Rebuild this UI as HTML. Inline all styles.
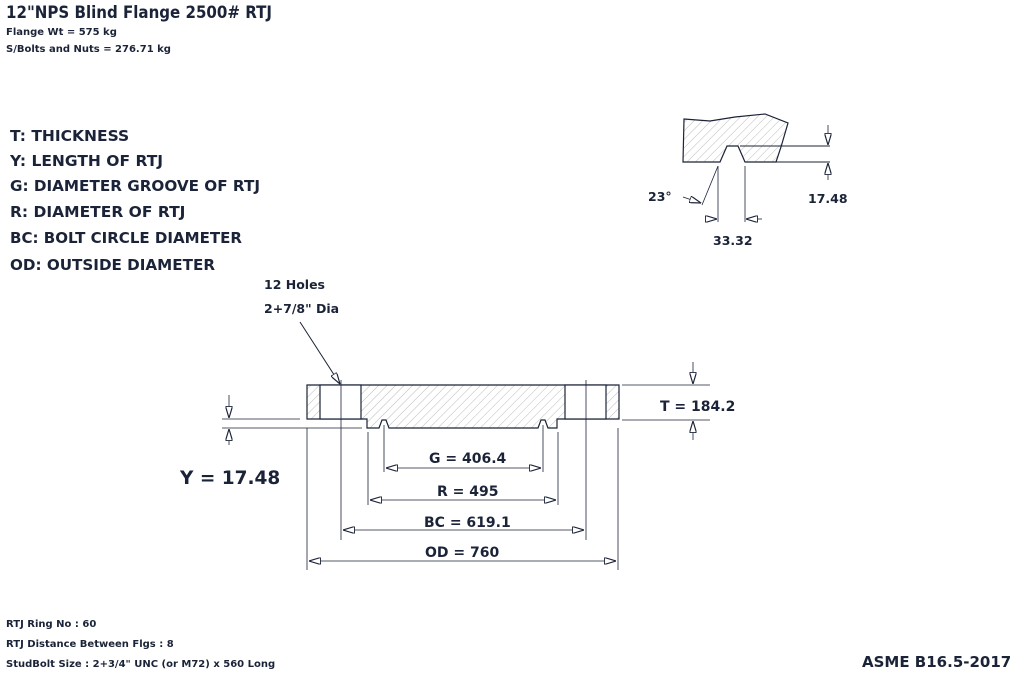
<!DOCTYPE html>
<html><head><style>
body{margin:0;background:#fff;}
svg text{font-family:"DejaVu Sans","Liberation Sans",sans-serif;fill:#1b2338;font-weight:bold;}
</style></head><body>
<svg width="1015" height="673" viewBox="0 0 1015 673" xmlns="http://www.w3.org/2000/svg">
<defs>
<pattern id="h" width="6" height="6" patternUnits="userSpaceOnUse" patternTransform="rotate(45)">
<line x1="0" y1="0" x2="0" y2="6" stroke="#bbb" stroke-width="1"/></pattern>
<marker id="a" viewBox="0 0 10 6" refX="10" refY="3" markerWidth="12" markerHeight="7" orient="auto-start-reverse" markerUnits="userSpaceOnUse">
<path d="M0,0 L10,3 L0,6 Z" fill="#fff" stroke="#1b2338" stroke-width="1"/></marker>
</defs>
<text x="6" y="18" font-size="16.5" textLength="266" lengthAdjust="spacingAndGlyphs">12"NPS Blind Flange 2500# RTJ</text>
<text x="6" y="35" font-size="10">Flange Wt =  575 kg</text>
<text x="6" y="52" font-size="10">S/Bolts and Nuts =  276.71 kg</text>
<g font-size="15.5">
<text x="10" y="141">T: THICKNESS</text>
<text x="10" y="166">Y: LENGTH OF RTJ</text>
<text x="10" y="191" textLength="250" lengthAdjust="spacingAndGlyphs">G: DIAMETER GROOVE OF RTJ</text>
<text x="10" y="217">R: DIAMETER OF RTJ</text>
<text x="10" y="243" textLength="232" lengthAdjust="spacingAndGlyphs">BC: BOLT CIRCLE DIAMETER</text>
<text x="10" y="270" textLength="205" lengthAdjust="spacingAndGlyphs">OD: OUTSIDE DIAMETER</text>
</g>
<text x="264" y="289" font-size="12.5">12 Holes</text>
<text x="264" y="313" font-size="12.5">2+7/8" Dia</text>
<line x1="300" y1="322" x2="340" y2="384" stroke="#1b2338" marker-end="url(#a)"/>
<g stroke="#1b2338" stroke-width="1.2" fill="none">
<path d="M307,385 H619 V419 H557 V428 H548 L545,420 L541,420 L538,428 H389 L386,420 L382,420 L379,428 H367 V419 H307 Z" fill="url(#h)"/>
<rect x="320" y="385" width="41" height="34" fill="#fff"/>
<rect x="565" y="385" width="41" height="34" fill="#fff"/>
<line x1="341" y1="380" x2="341" y2="540" stroke-width="0.8"/>
<line x1="586" y1="380" x2="586" y2="540" stroke-width="0.8"/>
<line x1="307" y1="428" x2="307" y2="570" stroke-width="0.8"/>
<line x1="618" y1="428" x2="618" y2="570" stroke-width="0.8"/>
<line x1="368" y1="432" x2="368" y2="505" stroke-width="0.8"/>
<line x1="558" y1="432" x2="558" y2="505" stroke-width="0.8"/>
<line x1="384" y1="425" x2="384" y2="472" stroke-width="0.8"/>
<line x1="543" y1="425" x2="543" y2="472" stroke-width="0.8"/>
<line x1="386" y1="468" x2="541" y2="468" stroke-width="0.8" marker-start="url(#a)" marker-end="url(#a)"/>
<line x1="370" y1="500" x2="556" y2="500" stroke-width="0.8" marker-start="url(#a)" marker-end="url(#a)"/>
<line x1="343" y1="530" x2="584" y2="530" stroke-width="0.8" marker-start="url(#a)" marker-end="url(#a)"/>
<line x1="309" y1="561" x2="616" y2="561" stroke-width="0.8" marker-start="url(#a)" marker-end="url(#a)"/>
<line x1="622" y1="385" x2="710" y2="385" stroke-width="0.8"/>
<line x1="622" y1="420" x2="710" y2="420" stroke-width="0.8"/>
<line x1="693" y1="362" x2="693" y2="384" stroke-width="0.8" marker-end="url(#a)"/>
<line x1="693" y1="440" x2="693" y2="421" stroke-width="0.8" marker-end="url(#a)"/>
<line x1="222" y1="419" x2="300" y2="419" stroke-width="0.8"/>
<line x1="222" y1="428" x2="362" y2="428" stroke-width="0.8"/>
<line x1="229" y1="395" x2="229" y2="418" stroke-width="0.8" marker-end="url(#a)"/>
<line x1="229" y1="445" x2="229" y2="429" stroke-width="0.8" marker-end="url(#a)"/>
</g>
<g font-size="14" font-family="Liberation Sans">
<text x="429" y="463">G = 406.4</text>
<text x="437" y="496">R = 495</text>
<text x="424" y="527">BC = 619.1</text>
<text x="425" y="557">OD = 760</text>
<text x="660" y="411">T = 184.2</text>
</g>
<text x="180" y="484" font-size="18.5">Y = 17.48</text>
<g stroke="#1b2338" stroke-width="1.2" fill="none">
<path d="M684,119 L710,121 L735,117 L765,114 L788,123 L781,147 L776,162 H745 L738,146 H727 L720,162 H683 Z" fill="url(#h)"/>
<line x1="740" y1="146" x2="830" y2="146" stroke-width="0.9"/>
<line x1="774" y1="162" x2="830" y2="162" stroke-width="0.9"/>
<line x1="718" y1="166" x2="702" y2="205" stroke-width="0.8"/>
<line x1="718" y1="166" x2="718" y2="222" stroke-width="0.8"/>
<line x1="745" y1="166" x2="745" y2="222" stroke-width="0.8"/>
<line x1="705" y1="219" x2="717" y2="219" stroke-width="0.8" marker-end="url(#a)"/>
<line x1="762" y1="219" x2="746" y2="219" stroke-width="0.8" marker-end="url(#a)"/>
<line x1="683" y1="197" x2="701" y2="203" stroke-width="0.8" marker-end="url(#a)"/>
<line x1="828" y1="125" x2="828" y2="145" stroke-width="0.8" marker-end="url(#a)"/>
<line x1="828" y1="180" x2="828" y2="163" stroke-width="0.8" marker-end="url(#a)"/>
</g>
<text x="648" y="201" font-size="12.5">23°</text>
<text x="808" y="203" font-size="12.5">17.48</text>
<text x="713" y="245" font-size="12.5">33.32</text>
<text x="6" y="627" font-size="10">RTJ Ring No : 60</text>
<text x="6" y="647" font-size="10">RTJ Distance Between Flgs : 8</text>
<text x="6" y="667" font-size="10">StudBolt Size : 2+3/4" UNC  (or M72)  x 560 Long</text>
<text x="862" y="667" font-size="15">ASME B16.5-2017</text>
</svg>
</body></html>
